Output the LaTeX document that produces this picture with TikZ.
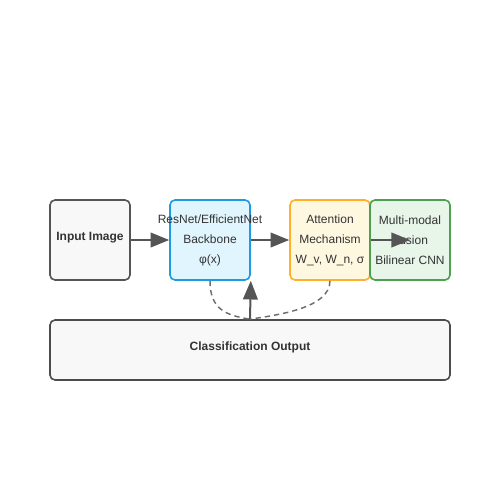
\documentclass[tikz,border=0pt]{standalone}
\usepackage{fontspec}
\setmainfont{Liberation Sans}
\usepackage{tikz}
\usetikzlibrary{arrows.meta}
\usetikzlibrary{positioning}
\definecolor{boxgray}{HTML}{F8F8F8}
\definecolor{linegray}{HTML}{555555}
\definecolor{textgray}{HTML}{333333}
\definecolor{bluefill}{HTML}{E1F5FE}
\definecolor{bluedraw}{HTML}{1E9BE0}
\definecolor{yellowfill}{HTML}{FFF8E1}
\definecolor{yellowdraw}{HTML}{FFAF2A}
\definecolor{greenfill}{HTML}{E8F5E9}
\definecolor{greendraw}{HTML}{4CA04F}
\tikzstyle{plain} = [rectangle, rounded corners=3.75pt, minimum width=60pt, minimum height=60pt, text centered, draw=linegray, line width=1.2pt, fill=boxgray, text=textgray, font=\fontsize{9}{15}\selectfont\bfseries, text height=7pt, text depth=7pt]
\tikzstyle{stage} = [rectangle, rounded corners=3.75pt, minimum width=60pt, minimum height=60pt, inner sep=0pt, text centered, line width=1.2pt, align=center, text=textgray, font=\fontsize{9}{15}\selectfont]
\tikzstyle{arrow} = [line width=1.5pt, draw=linegray, -{Triangle[length=14pt,width=11pt]}]
\tikzstyle{feedback} = [line width=1.1pt, draw=linegray!85, dash pattern=on 4pt off 3pt]

\begin{document}
\begin{tikzpicture}[x=0.75pt, y=-0.75pt, node distance=90pt]
        \useasboundingbox (0,0) rectangle (500,500);
        \node (input) [plain] at (90,240) {Input Image};
        \node (backbone) [stage, right of=input, draw=bluedraw, fill=bluefill] {\makebox[0pt]{ResNet/EfficientNet}\\ Backbone\\ φ(x)};
        \node (attention) [stage, right of=backbone, draw=yellowdraw, fill=yellowfill] {Attention\\ Mechanism\\ \makebox[0pt]{W\_v, W\_n, σ}};
        \node (fusion) [stage, right of=attention, xshift=-30pt, draw=greendraw, fill=greenfill] {Multi-modal\\ Fusion\\ \makebox[0pt]{Bilinear CNN}};
        \node (classify) [plain, minimum width=300pt, minimum height=45pt, draw=linegray!90!black] at (250,350) {Classification Output};

        \draw [arrow] (input) -- (backbone);
        \draw [arrow] (backbone) -- (attention);
        \draw [arrow] (attention.east) -- (fusion.center);
        \draw [arrow] (classify.north) -- (backbone.south east);
        \draw [feedback] (backbone.south) .. controls +(0,28) and +(-25,-4) .. (classify.north);
        \draw [feedback] (attention.south) .. controls +(0,28) and +(25,-4) .. (classify.north);

    \end{tikzpicture}
\end{document}
